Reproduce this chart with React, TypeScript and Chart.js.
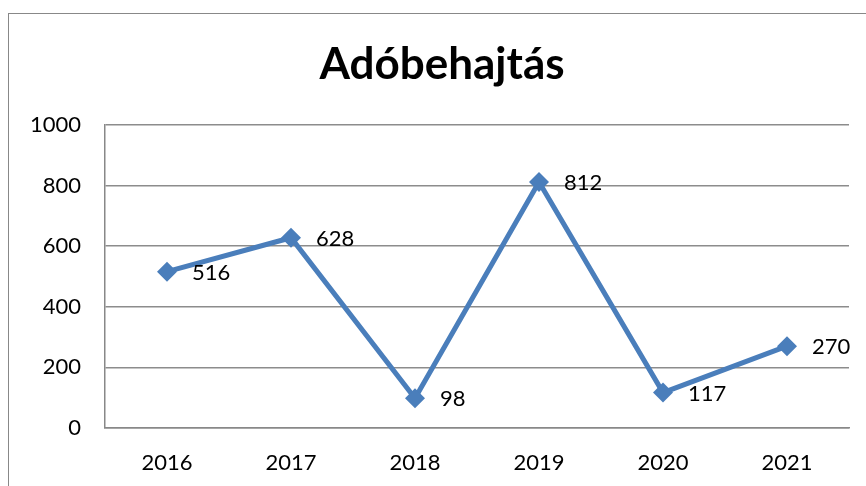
import React, { useEffect, useRef } from "react";
import { Chart, registerables } from "chart.js";

Chart.register(...registerables);

const categories = ["2016", "2017", "2018", "2019", "2020", "2021"];
const values = [516, 628, 98, 812, 117, 270];
const yTicks = [0, 200, 400, 600, 800, 1000];
const titleText = "Adóbehajtás";

const FONT = "Lato, 'Open Sans', sans-serif";
const BLUE = "#4A7EBB";

const labelPlugin = {
  id: "pointLabels",
  afterDatasetsDraw(chart: any) {
    const ctx = chart.ctx;
    const meta = chart.getDatasetMeta(0);
    ctx.save();
    ctx.font = `22px ${FONT}`;
    ctx.fillStyle = "#000";
    ctx.textAlign = "left";
    ctx.textBaseline = "middle";
    meta.data.forEach((pt: any, i: number) => {
      ctx.fillText(String(values[i]), pt.x + 25, pt.y + 1);
    });
    ctx.restore();
  },
};

const titlePlugin = {
  id: "offsetTitle",
  afterDraw(chart: any) {
    const ctx = chart.ctx;
    ctx.save();
    ctx.font = `bold 44px ${FONT}`;
    ctx.fillStyle = "#000";
    ctx.textAlign = "center";
    ctx.textBaseline = "alphabetic";
    ctx.fillText(titleText, 442, 79);
    ctx.restore();
  },
};

export default function App() {
  const ref = useRef<HTMLCanvasElement>(null);
  useEffect(() => {
    const chart = new Chart(ref.current!, {
      type: "line",
      data: {
        labels: categories,
        datasets: [
          {
            data: values,
            borderColor: BLUE,
            backgroundColor: BLUE,
            borderWidth: 5,
            pointStyle: "rectRot",
            pointRadius: 10,
            pointHoverRadius: 10,
            pointBorderWidth: 0,
            tension: 0,
          },
        ],
      },
      options: {
        responsive: false,
        animation: false,
        layout: { padding: { left: 0, right: 17, top: 125, bottom: 0 } },
        plugins: {
          legend: { display: false },
          tooltip: { enabled: false },
          title: { display: false },
        },
        scales: {
          x: {
            offset: true,
            grid: { display: false, drawTicks: false },
            border: { display: true, color: "#888", width: 1.5 },
            ticks: { color: "#000", font: { family: FONT, size: 22 }, padding: 22, maxRotation: 0 },
            afterFit(scale: any) {
              scale.height = 58;
            },
          },
          y: {
            min: 0,
            max: 1000,
            afterBuildTicks(scale: any) {
              scale.ticks = yTicks.map((v) => ({ value: v }));
            },
            grid: { color: "#8c8c8c", lineWidth: 1.5, drawTicks: false },
            border: { display: true, color: "#888", width: 1.5 },
            ticks: {
              color: "#000",
              font: { family: FONT, size: 22 },
              padding: 24,
              callback: (v: any) => String(v),
            },
            afterFit(scale: any) {
              scale.width = 105;
            },
          },
        },
      },
      plugins: [labelPlugin, titlePlugin],
    });
    return () => chart.destroy();
  }, []);

  return (
    <div
      style={{
        position: "fixed",
        left: 0,
        top: 0,
        width: 866,
        height: 486,
        overflow: "hidden",
        background: "#fff",
      }}
    >
      <canvas ref={ref} width={866} height={486} style={{ position: "absolute", left: 0, top: 0 }} />
      <div
        style={{
          position: "absolute",
          left: 8,
          top: 13,
          width: 900,
          height: 600,
          border: "1.5px solid #888",
          boxSizing: "border-box",
          pointerEvents: "none",
        }}
      />
    </div>
  );
}
